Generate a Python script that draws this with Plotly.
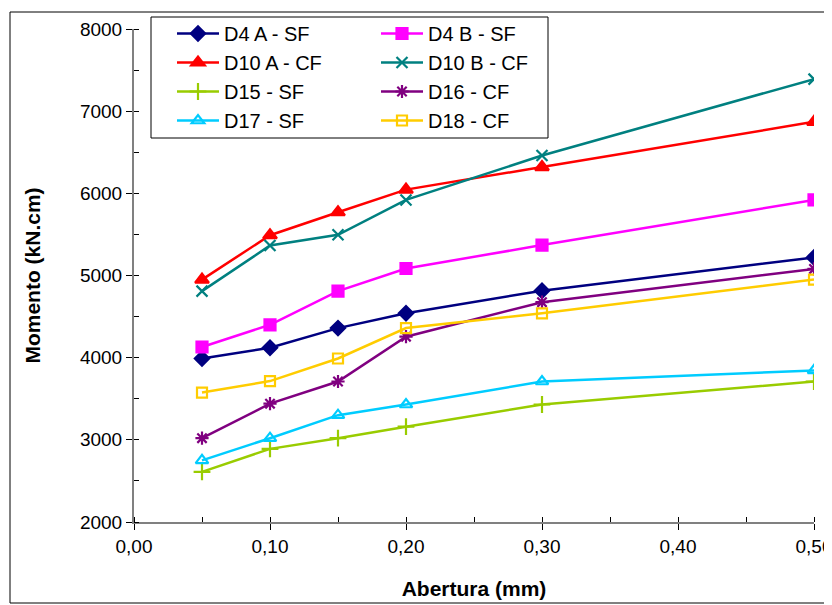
import plotly.graph_objects as go

abertura = [0.05, 0.10, 0.15, 0.20, 0.30, 0.50]

series_names = ["D4 A - SF", "D4 B - SF", "D10 A - CF", "D10 B - CF",
                "D15 - SF", "D16 - CF", "D17 - SF", "D18 - CF"]

d4a_sf = [3990, 4120, 4360, 4540, 4815, 5220]
d4b_sf = [4130, 4400, 4810, 5085, 5370, 5920]
d10a_cf = [4950, 5490, 5770, 6045, 6320, 6870]
d10b_cf = [4810, 5365, 5495, 5920, 6460, 7390]
d15_sf = [2610, 2890, 3020, 3160, 3430, 3710]
d16_cf = [3020, 3440, 3710, 4255, 4675, 5080]
d17_sf = [2750, 3020, 3300, 3430, 3710, 3845]
d18_cf = [3575, 3715, 3990, 4360, 4540, 4950]

values = [d4a_sf, d4b_sf, d10a_cf, d10b_cf, d15_sf, d16_cf, d17_sf, d18_cf]
colors = ["#000080", "#FF00FF", "#FF0000", "#008080",
          "#99CC00", "#800080", "#00CCFF", "#FFCC00"]
symbols = ["diamond", "square", "triangle-up", "x-thin-open",
           "cross-thin-open", "asterisk-open", "triangle-up-open", "square-open"]
sizes = [11, 11, 12, 11, 12, 11, 11, 10]
legend_ids = ["legend", "legend2"] * 4

fig = go.Figure()
for name, vals, c, s, sz, lg in zip(series_names, values, colors, symbols, sizes, legend_ids):
    fig.add_trace(go.Scatter(
        x=abertura, y=vals, name=name, mode="lines+markers",
        line=dict(color=c, width=2.5),
        marker=dict(symbol=s, size=sz, color=c,
                    line=dict(color=c, width=2.2)),
        legend=lg,
    ))

font_family = "Arial, Liberation Sans, sans-serif"

# page body has an 8px offset; figure sized to fill the rest of the window
OFF = 8
W, H = 832 - OFF, 605 - OFF
L, R, T, B = 134 - OFF, 18, 29 - OFF, 83
PW, PH = W - L - R, H - T - B


def px_x(px):
    return (px - OFF - L) / PW


def px_y(py):
    return (H - B - (py - OFF)) / PH


legend_common = dict(
    orientation="v", xanchor="left", yanchor="top",
    bgcolor="rgba(0,0,0,0)", borderwidth=0,
    font=dict(size=20, family=font_family, color="black"),
    tracegroupgap=0, itemwidth=42,
)

fig.update_layout(
    width=W, height=H,
    margin=dict(l=L, r=R, t=T, b=B, autoexpand=False),
    paper_bgcolor="white", plot_bgcolor="white",
    separators=",.",
    font=dict(family=font_family, color="black", size=19),
    showlegend=True,
    legend=dict(x=px_x(172), y=px_y(14), **legend_common),
    legend2=dict(x=px_x(376), y=px_y(14), **legend_common),
    xaxis=dict(
        range=[0, 0.5], dtick=0.1, tick0=0, tickformat=".2f",
        showgrid=False, zeroline=False, automargin=False,
        ticklabeloverflow="allow",
        showline=True, linecolor="#808080", linewidth=2,
        ticks="outside", ticklen=6, tickcolor="black", tickwidth=1,
        minor=dict(dtick=0.05, ticks="inside", ticklen=5, tickcolor="black", showgrid=False),
        tickfont=dict(size=19),
        title=dict(text="<b>Abertura (mm)</b>", font=dict(size=21), standoff=26),
    ),
    yaxis=dict(
        range=[2000, 8000], dtick=1000, tick0=2000, tickformat="d",
        showgrid=False, zeroline=False, automargin=False,
        ticklabeloverflow="allow",
        showline=True, linecolor="#808080", linewidth=2,
        ticks="outside", ticklen=6, tickcolor="black", tickwidth=1,
        minor=dict(dtick=500, ticks="inside", ticklen=5, tickcolor="black", showgrid=False),
        tickfont=dict(size=19),
        title=dict(text="<b>Momento (kN.cm)</b>", font=dict(size=21), standoff=34),
    ),
)

# outer chart-area border
fig.add_shape(type="rect", xref="paper", yref="paper",
              x0=px_x(10), x1=px_x(830), y0=px_y(603), y1=px_y(12),
              line=dict(color="black", width=1), layer="below")

# legend box
fig.add_shape(type="rect", xref="paper", yref="paper",
              x0=px_x(151), x1=px_x(548), y0=px_y(138), y1=px_y(17),
              line=dict(color="black", width=1), fillcolor="white", layer="above")

fig.write_html("out.html")
